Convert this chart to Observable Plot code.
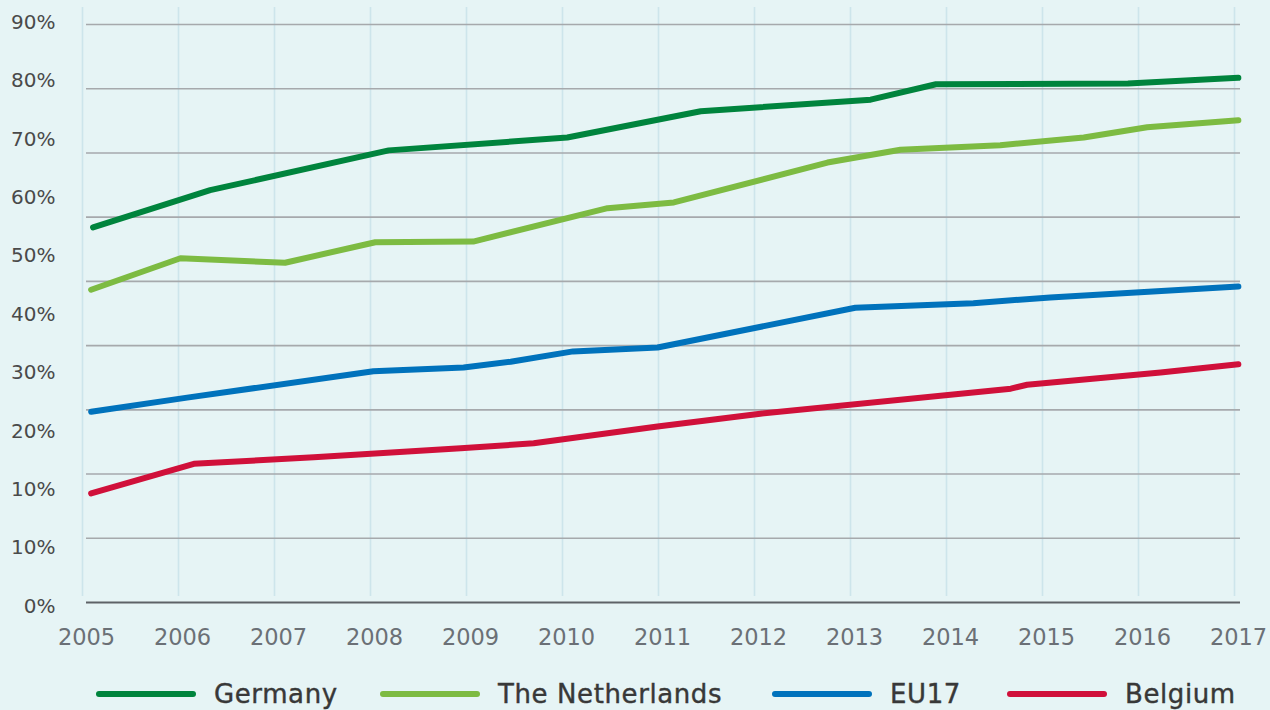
<!DOCTYPE html>
<html><head><meta charset="utf-8">
<script src="https://cdn.jsdelivr.net/npm/d3@7"></script>
<script src="https://cdn.jsdelivr.net/npm/@observablehq/plot@0.6"></script>
<style>
html,body{margin:0;padding:0;background:#e6f4f5;width:1270px;height:710px;overflow:hidden;font-family:"DejaVu Sans",Lato,sans-serif;}
#chart svg{display:block;}
#legend{position:relative;height:42px;}
.item{position:absolute;top:10px;height:32px;display:flex;align-items:center;}
.swatch{width:100px;height:6px;border-radius:3px;margin-right:18px;}
.label{font-size:26px;color:#383838;letter-spacing:0.6px;-webkit-text-stroke:0.4px #383838;}
</style></head><body>
<div id="chart"></div><div id="legend"></div>
<script>
const seriesNames = ["Germany", "The Netherlands", "EU17", "Belgium"];
const seriesColors = ["#00843d", "#7dbb42", "#0072bc", "#d0103a"];

const germanyYears  = [2005.11, 2006.33, 2008.19, 2010.05, 2011.44, 2013.21, 2013.89, 2015.89, 2017.04];
const germanyValues = [58.4, 64.2, 70.4, 72.4, 76.5, 78.3, 80.7, 80.8, 81.7];

const netherlandsYears  = [2005.09, 2006.02, 2007.11, 2008.05, 2009.07, 2010.47, 2011.16, 2012.76, 2013.52, 2014.56, 2015.43, 2016.09, 2017.04];
const netherlandsValues = [48.7, 53.6, 52.9, 56.1, 56.2, 61.4, 62.3, 68.5, 70.5, 71.2, 72.4, 74.0, 75.1];

const eu17Years  = [2005.09, 2006.09, 2008.03, 2008.97, 2009.46, 2010.11, 2010.99, 2013.05, 2014.28, 2015.08, 2017.04];
const eu17Values = [29.7, 31.9, 36.0, 36.6, 37.5, 39.1, 39.7, 45.9, 46.6, 47.5, 49.2];

const belgiumYears  = [2005.09, 2006.16, 2007.41, 2008.94, 2009.70, 2010.99, 2012.06, 2014.67, 2014.84, 2016.23, 2017.04];
const belgiumValues = [17.0, 21.6, 22.6, 24.0, 24.8, 27.4, 29.4, 33.3, 33.9, 35.8, 37.1];

const xTickYears = [2005, 2006, 2007, 2008, 2009, 2010, 2011, 2012, 2013, 2014, 2015, 2016, 2017];
const gridValues = [10, 20, 30, 40, 50, 60, 70, 80, 90];
const yTickLabels = ["0%", "10%", "10%", "20%", "30%", "40%", "50%", "60%", "70%", "80%", "90%"];

const seriesYears = [germanyYears, netherlandsYears, eu17Years, belgiumYears];
const seriesValues = [germanyValues, netherlandsValues, eu17Values, belgiumValues];
const rows = seriesNames.flatMap((name, s) =>
  seriesYears[s].map((year, i) => ({series: name, year, value: seriesValues[s][i]})));

// the printed labels are spread evenly over the axis, independent of the gridlines
const labelRows = yTickLabels.map((label, i) => ({label, v: -0.6 + i * (90.9 / (yTickLabels.length - 1))}));

const chart = Plot.plot({
  width: 1270,
  height: 668,
  marginLeft: 82,
  marginRight: 36,
  marginTop: 24,
  marginBottom: 66,
  style: {background: "transparent", fontFamily: "'DejaVu Sans', Lato, sans-serif"},
  x: {domain: [2005, 2017]},
  y: {domain: [0, 90], axis: null},
  color: {domain: seriesNames, range: seriesColors},
  marks: [
    Plot.ruleX(xTickYears, {stroke: "#cde5eb", strokeWidth: 1.6, insetTop: -17, insetBottom: 6}),
    Plot.ruleY(gridValues, {stroke: "#a6a9ac", strokeWidth: 1.6, insetLeft: 4, insetRight: -6}),
    Plot.ruleY([0], {stroke: "#5e6267", strokeWidth: 2.2, insetLeft: 4, insetRight: -6}),
    Plot.line(rows, {x: "year", y: "value", z: "series", stroke: "series", strokeWidth: 6,
      strokeLinecap: "round", strokeLinejoin: "round"}),
    Plot.text(labelRows, {y: "v", text: "label", frameAnchor: "left", textAnchor: "end", dx: -27,
      fontSize: 20, fill: "#4a4a4a"}),
    Plot.axisX(xTickYears, {tickSize: 0, tickPadding: 27, tickFormat: d => String(d), fontSize: 22.5,
      fill: "#6b7076", stroke: "#6b7076", strokeWidth: 0.5, dx: 4, label: null})
  ]
});
document.getElementById("chart").appendChild(chart);

const legendLeft = [96, 380, 772, 1007];
const legend = document.getElementById("legend");
seriesNames.forEach((name, i) => {
  const item = document.createElement("div");
  item.className = "item";
  item.style.left = legendLeft[i] + "px";
  const sw = document.createElement("div");
  sw.className = "swatch";
  sw.style.background = seriesColors[i];
  const lb = document.createElement("span");
  lb.className = "label";
  lb.textContent = name;
  item.appendChild(sw); item.appendChild(lb);
  legend.appendChild(item);
});
</script>
</body></html>
